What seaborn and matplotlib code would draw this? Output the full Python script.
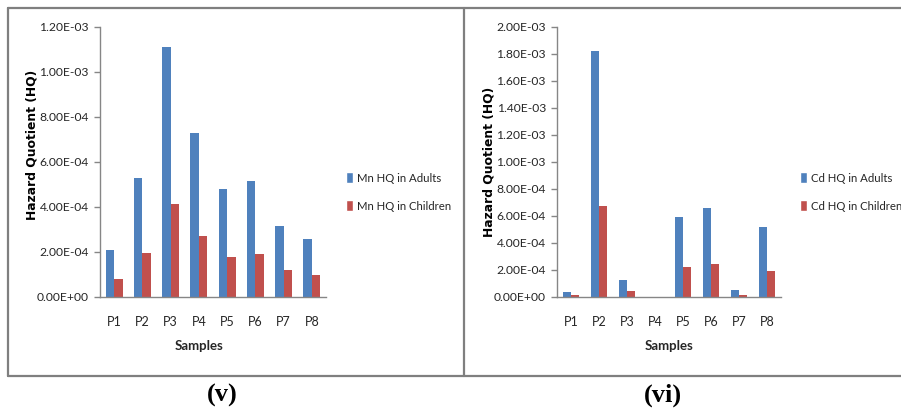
import matplotlib
matplotlib.use("Agg")
import matplotlib.pyplot as plt
import seaborn as sns
import pandas as pd
from matplotlib.lines import Line2D
from matplotlib.patches import Patch

samples = ["P1", "P2", "P3", "P4", "P5", "P6", "P7", "P8"]
mn_adults = [2.07e-4, 5.27e-4, 1.108e-3, 7.27e-4, 4.77e-4, 5.13e-4, 3.16e-4, 2.55e-4]
mn_children = [7.7e-5, 1.93e-4, 4.12e-4, 2.70e-4, 1.75e-4, 1.90e-4, 1.17e-4, 9.5e-5]
cd_adults = [3.5e-5, 1.817e-3, 1.21e-4, 0.0, 5.88e-4, 6.54e-4, 4.9e-5, 5.16e-4]
cd_children = [1.2e-5, 6.72e-4, 4.2e-5, 0.0, 2.20e-4, 2.44e-4, 1.2e-5, 1.88e-4]
mn_ticks = [0, 2e-4, 4e-4, 6e-4, 8e-4, 1e-3, 1.2e-3]
mn_ticklabels = ["0.00E+00", "2.00E-04", "4.00E-04", "6.00E-04", "8.00E-04", "1.00E-03", "1.20E-03"]
cd_ticks = [0, 2e-4, 4e-4, 6e-4, 8e-4, 1e-3, 1.2e-3, 1.4e-3, 1.6e-3, 1.8e-3, 2e-3]
cd_ticklabels = ["0.00E+00", "2.00E-04", "4.00E-04", "6.00E-04", "8.00E-04", "1.00E-03",
                 "1.20E-03", "1.40E-03", "1.60E-03", "1.80E-03", "2.00E-03"]

sns.set_theme(style="white")
plt.rcParams['font.family'] = ['Lato', 'Liberation Sans', 'DejaVu Sans']

BLUE = "#4F81BD"
RED = "#C0504D"
GRAY = "#868686"
TXT = "#262626"

W, H = 901, 413
fig = plt.figure(figsize=(W / 100, H / 100), dpi=100)
fig.patch.set_facecolor("white")

def fx(px):
    return px / W

def fy(py):
    return 1 - py / H

# frames
frame_kw = dict(color="#7f7f7f", linewidth=1.6, transform=fig.transFigure)
fig.add_artist(Line2D([fx(8), fx(8)], [fy(7.5), fy(375.7)], **frame_kw))
fig.add_artist(Line2D([fx(8), 1], [fy(7.5), fy(7.5)], **frame_kw))
fig.add_artist(Line2D([fx(8), 1], [fy(375.7), fy(375.7)], **frame_kw))
fig.add_artist(Line2D([fx(464.3), fx(464.3)], [fy(7.5), fy(375.7)], **frame_kw))


def panel(left_px, right_px, adults, children, metal, ticks, ticklabels, ymax,
          xlabel_cx, ylabel_x, ylabel_cy, legend_x, tag, tag_x):
    top_px, bot_px = 26.7, 296.7
    ax = fig.add_axes([fx(left_px), fy(bot_px), fx(right_px - left_px), (bot_px - top_px) / H])
    df = pd.DataFrame({
        "Samples": samples * 2,
        "HQ": list(adults) + list(children),
        "Group": [f"{metal} HQ in Adults"] * len(samples) + [f"{metal} HQ in Children"] * len(samples),
    })
    sns.barplot(data=df, x="Samples", y="HQ", hue="Group", palette=[BLUE, RED],
                width=0.6, saturation=1, ax=ax, legend=False, linewidth=0)
    ax.set_ylim(0, ymax)
    ax.set_xlim(-0.5, len(samples) - 0.5)
    ax.set_yticks(ticks)
    ax.set_yticklabels(ticklabels)
    for s in ["top", "right"]:
        ax.spines[s].set_visible(False)
    for s in ["left", "bottom"]:
        ax.spines[s].set_color(GRAY)
        ax.spines[s].set_linewidth(1.0)
    ax.tick_params(axis="y", which="both", left=True, length=4, width=1.0, color=GRAY,
                   labelsize=8.7, labelcolor=TXT, pad=4)
    ax.tick_params(axis="x", bottom=False, labelsize=9, labelcolor=TXT, pad=8)
    ax.set_xlabel("")
    ax.set_ylabel("")
    ax.set_facecolor("white")
    fig.text(fx(xlabel_cx), fy(345.7), "Samples", ha="center", va="center",
             fontsize=9.5, fontweight="bold", color=TXT)
    fig.text(fx(ylabel_x), fy(ylabel_cy), "Hazard Quotient (HQ)", ha="center", va="center",
             rotation=90, fontsize=8.9, fontweight="bold", color="black",
             family=["DejaVu Sans"])
    handles = [Patch(facecolor=BLUE), Patch(facecolor=RED)]
    labels = [f"{metal} HQ in Adults", f"{metal} HQ in Children"]
    fig.legend(handles, labels, loc="center left",
               bbox_to_anchor=(fx(legend_x), fy(192)), bbox_transform=fig.transFigure,
               frameon=False, fontsize=8.2, handlelength=0.6, handleheight=1.1,
               handletextpad=0.35, labelspacing=1.45, borderpad=0, borderaxespad=0,
               labelcolor=TXT)
    fig.text(fx(tag_x), fy(395), tag, ha="center", va="center", fontsize=19,
             fontweight="bold", family=["Liberation Serif", "DejaVu Serif"], color="black")
    return ax


panel(100, 326, mn_adults, mn_children, "Mn", mn_ticks, mn_ticklabels, 1.2e-3,
      199, 32, 145, 346, "(v)", 222)
panel(557, 781, cd_adults, cd_children, "Cd", cd_ticks, cd_ticklabels, 2.0e-3,
      669, 489, 161.5, 800, "(vi)", 663)

fig.savefig("out.png", dpi=100, facecolor="white")
